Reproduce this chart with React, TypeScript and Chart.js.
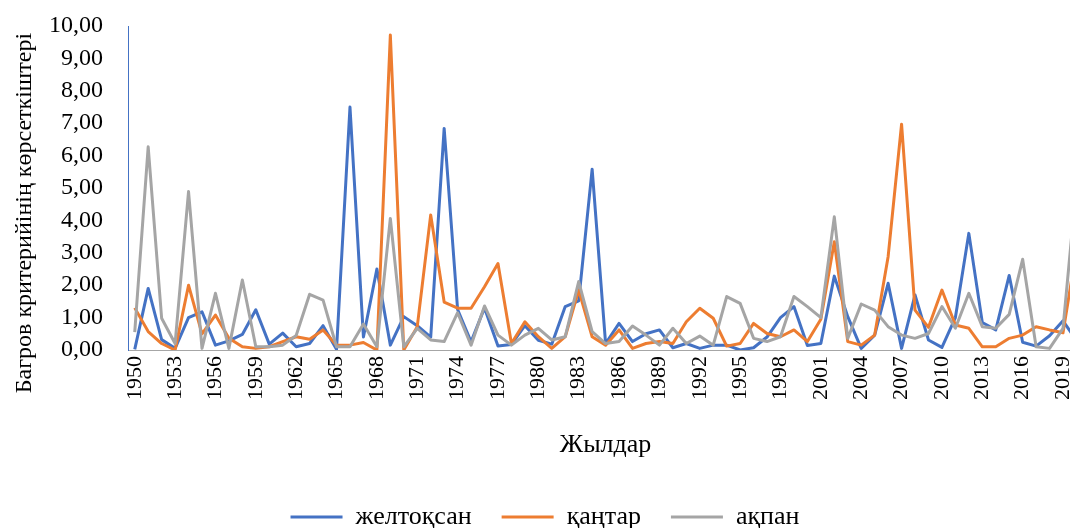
import React, { useEffect, useRef } from 'react';
import { Chart, registerables } from 'chart.js';

Chart.register(...registerables);

const years = [
  '1950', '1951', '1952', '1953', '1954', '1955', '1956', '1957', '1958', '1959',
  '1960', '1961', '1962', '1963', '1964', '1965', '1966', '1967', '1968', '1969',
  '1970', '1971', '1972', '1973', '1974', '1975', '1976', '1977', '1978', '1979',
  '1980', '1981', '1982', '1983', '1984', '1985', '1986', '1987', '1988', '1989',
  '1990', '1991', '1992', '1993', '1994', '1995', '1996', '1997', '1998', '1999',
  '2000', '2001', '2002', '2003', '2004', '2005', '2006', '2007', '2008', '2009',
  '2010', '2011', '2012', '2013', '2014', '2015', '2016', '2017', '2018', '2019',
  '2020',
];

const tickYears = [
  '1950', '1953', '1956', '1959', '1962', '1965', '1968', '1971', '1974', '1977',
  '1980', '1983', '1986', '1989', '1992', '1995', '1998', '2001', '2004', '2007',
  '2010', '2013', '2016', '2019',
];

// желтоқсан
const zheltoqsan = [
  0.02, 1.9, 0.32, 0.05, 1.0, 1.18, 0.15, 0.28, 0.48, 1.24,
  0.18, 0.52, 0.1, 0.2, 0.75, 0.02, 7.5, 0.4, 2.5, 0.15,
  1.03, 0.75, 0.4, 6.84, 1.25, 0.25, 1.3, 0.12, 0.17, 0.75,
  0.3, 0.18, 1.34, 1.52, 5.58, 0.2, 0.82, 0.26, 0.5, 0.62,
  0.07, 0.2, 0.05, 0.15, 0.15, 0.0, 0.07, 0.4, 1.0, 1.34,
  0.14, 0.2, 2.28, 1.03, 0.05, 0.46, 2.06, 0.05, 1.7, 0.31,
  0.08, 1.0, 3.6, 0.85, 0.62, 2.3, 0.24, 0.12, 0.44, 0.9,
  0.3,
];

// қаңтар
const qantar = [
  1.3, 0.57, 0.2, 0.0, 2.0, 0.5, 1.08, 0.36, 0.1, 0.05,
  0.1, 0.26, 0.41, 0.33, 0.62, 0.15, 0.15, 0.23, 0.0, 9.72,
  0.0, 0.72, 4.17, 1.48, 1.29, 1.29, 1.95, 2.67, 0.2, 0.87,
  0.41, 0.05, 0.41, 1.85, 0.41, 0.15, 0.62, 0.05, 0.2, 0.26,
  0.2, 0.87, 1.29, 0.98, 0.12, 0.2, 0.82, 0.51, 0.41, 0.62,
  0.26, 0.95, 3.34, 0.26, 0.15, 0.46, 2.88, 6.97, 1.23, 0.7,
  1.85, 0.77, 0.67, 0.1, 0.1, 0.36, 0.46, 0.72, 0.62, 0.53,
  3.1,
];

// ақпан
const aqpan = [
  0.55, 6.27, 0.98, 0.2, 4.89, 0.05, 1.75, 0.05, 2.16, 0.1,
  0.1, 0.15, 0.45, 1.72, 1.54, 0.1, 0.1, 0.8, 0.1, 4.06,
  0.1, 0.67, 0.31, 0.26, 1.15, 0.15, 1.36, 0.46, 0.15, 0.46,
  0.67, 0.31, 0.41, 2.11, 0.57, 0.2, 0.26, 0.74, 0.46, 0.15,
  0.67, 0.2, 0.43, 0.15, 1.65, 1.44, 0.36, 0.26, 0.41, 1.65,
  1.34, 1.0, 4.11, 0.36, 1.42, 1.23, 0.72, 0.46, 0.36, 0.51,
  1.34, 0.67, 1.75, 0.72, 0.67, 1.1, 2.8, 0.1, 0.05, 0.67,
  5.1,
];

const seriesNames = ['желтоқсан', 'қаңтар', 'ақпан'];
const seriesColors = ['#4472C4', '#ED7D31', '#A5A5A5'];
const yTitle = 'Багров критерийінің көрсеткіштері';
const xTitle = 'Жылдар';

const FONT = '"Liberation Serif", "Times New Roman", serif';

export default function App() {
  const ref = useRef<HTMLCanvasElement>(null);

  useEffect(() => {
    if (!ref.current) return;

    const yTitlePlugin = {
      id: 'yTitleText',
      afterDraw(chart: any) {
        const { ctx } = chart;
        ctx.save();
        ctx.translate(25, 213);
        ctx.rotate(-Math.PI / 2);
        ctx.font = `24px ${FONT}`;
        ctx.fillStyle = '#000';
        ctx.textAlign = 'center';
        ctx.textBaseline = 'middle';
        ctx.fillText(yTitle, 0, 0);
        ctx.restore();
      },
    };

    const makeDs = (i: number, data: number[], order: number) => ({
      label: seriesNames[i],
      data,
      borderColor: seriesColors[i],
      backgroundColor: seriesColors[i],
      borderWidth: 3,
      pointRadius: 0,
      pointHoverRadius: 0,
      tension: 0,
      borderJoinStyle: 'round' as const,
      order,
    });

    const chart = new Chart(ref.current, {
      type: 'line',
      data: {
        labels: years,
        datasets: [makeDs(0, zheltoqsan, 2), makeDs(1, qantar, 1), makeDs(2, aqpan, 0)],
      },
      options: {
        responsive: false,
        animation: false,
        devicePixelRatio: 1,
        layout: { padding: { top: 26, right: 19, left: 0, bottom: 0 } },
        plugins: {
          legend: {
            position: 'bottom',
            labels: {
              usePointStyle: true,
              pointStyle: 'line',
              pointStyleWidth: 52,
              padding: 30,
              color: '#000',
              font: { family: FONT, size: 26 },
              sort: (a: any, b: any) => a.datasetIndex - b.datasetIndex,
            },
          },
          tooltip: { enabled: false },
        },
        scales: {
          x: {
            type: 'category',
            offset: true,
            grid: { display: false, drawTicks: false },
            border: { display: true, color: '#A6A6A6', width: 1 },
            ticks: {
              autoSkip: false,
              minRotation: 90,
              maxRotation: 90,
              padding: 6,
              color: '#000',
              font: { family: FONT, size: 22 },
              callback: (_v: any, idx: number) => (tickYears.includes(years[idx]) ? years[idx] : ''),
            },
            title: {
              display: true,
              text: xTitle,
              color: '#000',
              font: { family: FONT, size: 26 },
              padding: { top: 0, bottom: 13 },
            },
            afterFit: (s: any) => {
              s.height = 124;
            },
          },
          y: {
            min: 0,
            max: 10,
            grid: { display: false, drawTicks: false },
            border: { display: true, color: '#4472C4', width: 1 },
            ticks: {
              stepSize: 1,
              autoSkip: false,
              padding: 25,
              color: '#000',
              font: { family: FONT, size: 24 },
              callback: (v: any) => Number(v).toFixed(2).replace('.', ','),
            },
            afterFit: (s: any) => {
              s.width = 128;
              s.paddingTop = 0;
              s.paddingBottom = 0;
            },
          },
        },
      },
      plugins: [yTitlePlugin],
    });

    return () => chart.destroy();
  }, []);

  return (
    <div
      style={{
        position: 'fixed',
        left: 0,
        top: 0,
        width: 1070,
        height: 528,
        overflow: 'hidden',
        background: '#fff',
      }}
    >
      <canvas ref={ref} width={1109} height={540} style={{ display: 'block', width: 1109, height: 540 }} />
    </div>
  );
}
